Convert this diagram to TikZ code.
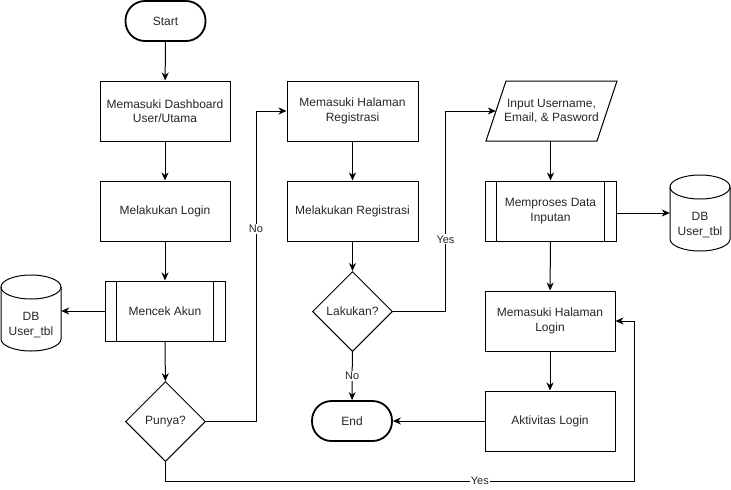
\documentclass[tikz,border=0pt]{standalone}
\usepackage{fontspec}
\setmainfont{Liberation Sans}
\usetikzlibrary{shapes.geometric,arrows.meta}
\begin{document}
\begin{tikzpicture}[x=1pt,y=-1pt,
  every node/.style={font=\fontsize{12}{14.5}\selectfont, text=black!85, align=center, inner sep=0pt},
  box/.style={draw, line width=1pt, minimum width=130pt, minimum height=60pt},
  proc/.style={draw, line width=1pt, minimum width=120pt, minimum height=60pt},
  term/.style={draw, line width=1.8pt, minimum width=80pt, minimum height=40pt, rounded corners=19.5pt},
  dec/.style={draw, line width=1pt, diamond, minimum width=80pt, minimum height=80pt},
  dbbox/.style={minimum width=60pt, minimum height=76pt},
  lab/.style={font=\fontsize{11}{13}\selectfont, fill=white, inner sep=1pt},
  arr/.style={line width=1pt, -{Stealth[length=8pt,width=7pt,inset=2.5pt]}},
  ln/.style={line width=1pt}
]
\useasboundingbox (0,0) rectangle (731,490);

% nodes
\node[term] (start) at (165.5,21) {Start};
\node[box] (dash) at (165,111) {Memasuki Dashboard\\User/Utama};
\node[box] (login) at (165,211) {Melakukan Login};
\node[proc] (mencek) at (165,311) {Mencek Akun};
\draw[ln] ([xshift=12pt]mencek.north west) -- ([xshift=12pt]mencek.south west);
\draw[ln] ([xshift=-12pt]mencek.north east) -- ([xshift=-12pt]mencek.south east);
\node[dec] (punya) at (165.5,421.5) {Punya?};

\node[dbbox] (db1) at (31,313) {};
\draw[ln] (31,287) ellipse [x radius=30, y radius=12];
\draw[ln] (1,287) -- (1,339) arc[start angle=180, end angle=0, x radius=30, y radius=12] -- (61,287);
\node (db1t) at (31,325) {DB\\User\_tbl};

\node[box, minimum width=131pt] (reg) at (352.5,111) {Memasuki Halaman\\Registrasi};
\node[box, minimum width=131pt] (doreg) at (352.5,211) {Melakukan Registrasi};
\node[dec] (lakukan) at (352.5,311.5) {Lakukan?};
\node[term] (end) at (352,421) {End};

\node[minimum width=111pt, minimum height=60pt] (input) at (551.5,111) {Input Username,\\Email, \& Pasword};
\draw[ln] (486,141) -- (506,81) -- (617,81) -- (597,141) -- cycle;

\node[box, minimum width=131pt] (proses) at (550.5,211) {Memproses Data\\Inputan};
\draw[ln] ([xshift=12pt]proses.north west) -- ([xshift=12pt]proses.south west);
\draw[ln] ([xshift=-12pt]proses.north east) -- ([xshift=-12pt]proses.south east);

\node[dbbox] (db2) at (700,213) {};
\draw[ln] (700,187) ellipse [x radius=30, y radius=12];
\draw[ln] (670,187) -- (670,239) arc[start angle=180, end angle=0, x radius=30, y radius=12] -- (730,187);
\node (db2t) at (700,225) {DB\\User\_tbl};

\node[box] (hlogin) at (550,321) {Memasuki Halaman\\Login};
\node[box] (aktiv) at (550,421) {Aktivitas Login};

% connectors
\draw[arr] (start) -- (dash);
\draw[arr] (dash) -- (login);
\draw[arr] (login) -- (mencek);
\draw[arr] (mencek.west) -- (mencek.west -| db1.east);
\draw[arr] (mencek) -- (punya);
\coordinate (no1a) at (256,421.5);
\coordinate (no1b) at (256,111);
\draw[arr] (punya.east) -- (no1a) -- node[lab, pos=0.62] (nolab) {No} (no1b) -- (reg.west);
\draw[arr] (reg) -- (doreg);
\draw[arr] (doreg) -- (lakukan);
\coordinate (yes1a) at (445.5,311.5);
\coordinate (yes1b) at (445.5,111);
\draw[arr] (lakukan.east) -- (yes1a) -- node[lab, pos=0.36] (yeslab) {Yes} (yes1b) -- (input.west);
\draw[arr] (lakukan) -- node[lab] (nolab2) {No} (end);
\draw[arr] (input.south -| proses.north) -- (proses);
\draw[arr] (proses.east |- db2) -- (db2.west);
\draw[arr] (proses) -- (hlogin);
\draw[arr] (hlogin) -- (aktiv);
\draw[arr] (aktiv) -- (end);
\coordinate (y2a) at (165.5,481);
\coordinate (y2b) at (634,481);
\coordinate (y2c) at (634,321);
\draw[arr] (punya.south) -- (y2a) -- node[lab, pos=0.671] (yeslab2) {Yes} (y2b) -- (y2c) -- (hlogin.east);
\end{tikzpicture}
\end{document}
